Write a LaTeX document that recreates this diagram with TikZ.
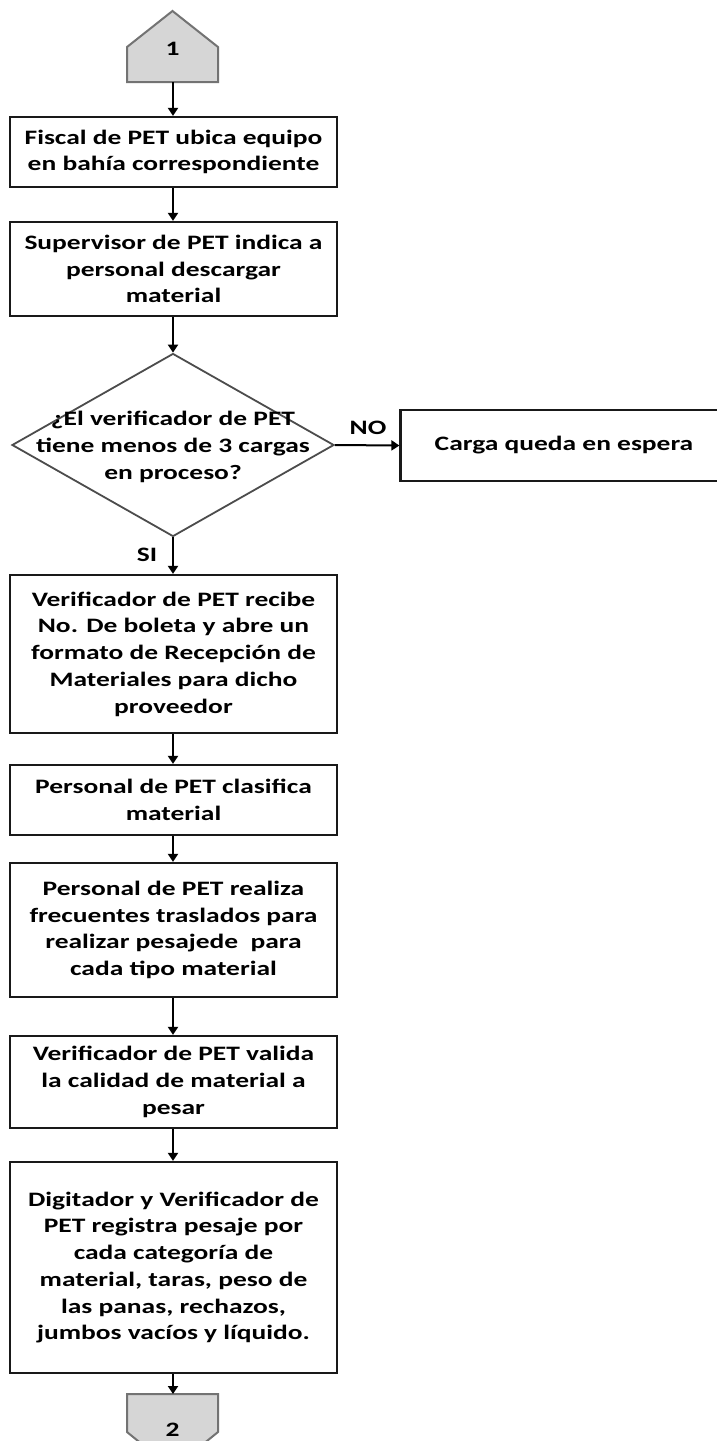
\documentclass[tikz,border=0pt]{standalone}
\usepackage{fontspec}
\setmainfont{Carlito}[FakeStretch=1.34]
\usetikzlibrary{arrows.meta,shapes.geometric}
\begin{document}
\begin{tikzpicture}[x=1pt,y=-1pt,
  every node/.style={font=\bfseries\fontsize{20.5}{26.7}\selectfont, text=black},
  box/.style={draw=black!90, line width=2.2pt, fill=white, minimum width=327pt, align=center, inner sep=0pt},
  decision/.style={draw=black!70, line width=1.8pt, shape=diamond, minimum width=322pt, minimum height=183pt, inner sep=0pt},
  conn/.style={draw=black!55, fill=black!16, line width=2pt, line join=miter},
  lbl/.style={align=center, inner sep=0pt},
  arr/.style={line width=2pt, -{Triangle[width=10pt,length=8pt]}}
]
\clip (0,0) rectangle (717,1441);
\fill[white] (0,0) rectangle (717,1441);
% connector 1
\draw[conn] (127,82) -- (127,47) -- (172.5,11) -- (218,47) -- (218,82) -- cycle;
\node[lbl] (n1) at (172.5,49) {1};
\coordinate (c1) at (173,82);
% boxes
\node[box, minimum height=70pt] (b1) at (173.5,152) {Fiscal de PET ubica equipo\\en bahía correspondiente};
\node[box, minimum height=94pt] (b2) at (173.5,269) {Supervisor de PET indica a\\personal descargar\\material};
\node[decision] (d) at (173,445) {};
\node[lbl] (dt) at (173,447) {¿El verificador de PET\\tiene menos de 3 cargas\\en proceso?};
\node[box, minimum height=71pt] (r) at (564,445.5) {Carga queda en espera};
\node[box, minimum height=158pt] (b3) at (173.5,654) {Verificador de PET recibe\\No. De boleta y abre un\\formato de Recepción de\\Materiales para dicho\\proveedor};
\node[box, minimum height=70pt] (b4) at (173.5,800) {Personal de PET clasifica\\material};
\node[box, minimum height=134pt] (b5) at (173.5,930) {Personal de PET realiza\\frecuentes traslados para\\realizar pesajede\ \ para\\cada tipo material};
\node[box, minimum height=92pt] (b6) at (173.5,1082) {Verificador de PET valida\\la calidad de material a\\pesar};
\node[box, minimum height=211pt] (b7) at (173.5,1267.5) {Digitador y Verificador de\\PET registra pesaje por\\cada categoría de\\material, taras, peso de\\las panas, rechazos,\\jumbos vacíos y líquido.};
% connector 2
\draw[conn] (127,1394) -- (218,1394) -- (218,1432) -- (172.5,1469) -- (127,1432) -- cycle;
\node[lbl] (n2) at (172.5,1430) {2};
\coordinate (c2) at (173,1394);
% arrows
\draw[arr] (c1) -- (b1.north -| c1);
\draw[arr] (b1.south -| c1) -- (b2.north -| c1);
\draw[arr] (b2.south -| c1) -- (d.north);
\draw[arr] (d.east) -- (r.west);
\draw[arr] (d.south) -- (b3.north -| d.south);
\draw[arr] (b3.south -| c1) -- (b4.north -| c1);
\draw[arr] (b4.south -| c1) -- (b5.north -| c1);
\draw[arr] (b5.south -| c1) -- (b6.north -| c1);
\draw[arr] (b6.south -| c1) -- (b7.north -| c1);
\draw[arr] (b7.south -| c1) -- (c2);
\node[lbl] (no) at (368,428) {NO};
\node[lbl] (si) at (147,555) {SI};
\end{tikzpicture}
\end{document}
